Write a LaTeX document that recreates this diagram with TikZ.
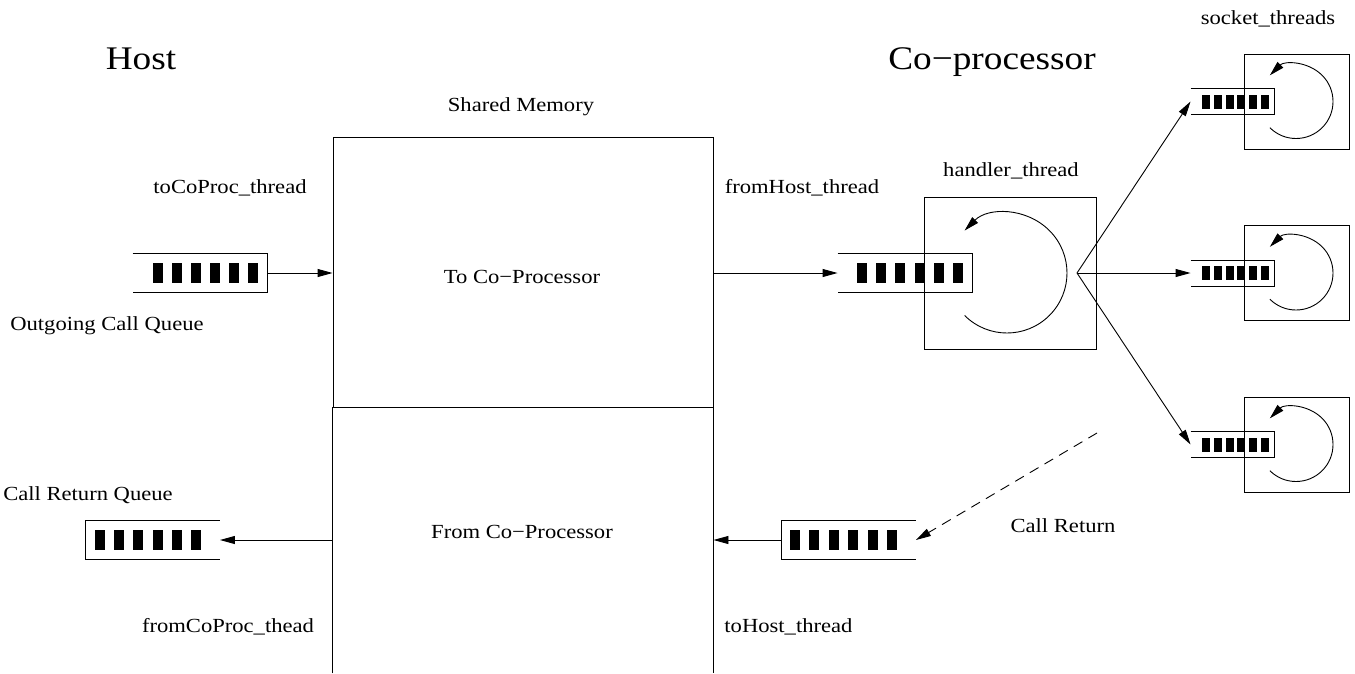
\documentclass[tikz,border=0pt]{standalone}
\usepackage{fontspec}
\setmainfont[FakeStretch=1.13]{Liberation Serif}
\usetikzlibrary{arrows.meta,calc}
\newcommand{\myqR}[1]{\draw (#1.north west) -- (#1.north east) -- (#1.south east) -- (#1.south west);}
\newcommand{\myqL}[1]{\draw (#1.north east) -- (#1.north west) -- (#1.south west) -- (#1.south east);}
% first bar left x, centre y, bar width, bar height, pitch
\newcommand{\myqbars}[5]{\foreach \i in {0,...,5} {\fill (#1+\i*#5, #2-#4/2) rectangle ++(#3, #4);}}
\begin{document}
\begin{tikzpicture}[x=1pt,y=-1pt, line width=0.9pt,
  lbl/.style={anchor=base, inner sep=0pt, font=\fontsize{20}{24}\selectfont},
  big/.style={anchor=base, inner sep=0pt, font=\fontsize{33}{40}\selectfont},
  arr/.style={-{Triangle[length=15pt,width=8pt]}},
  bigq/.style={draw=none, inner sep=0pt, minimum width=134pt, minimum height=38pt},
  smallq/.style={draw=none, inner sep=0pt, minimum width=83pt, minimum height=25pt},
  sockbox/.style={draw, inner sep=0pt, minimum width=105pt, minimum height=95pt},
  area/.style={draw=none, inner sep=0pt, minimum width=380pt}]
\useasboundingbox (0,0) rectangle (1355,673);

% titles
\node[big] (host) at (141,69) {Host};
\node[big] (cop) at (992,69) {Co−processor};
\node[lbl] (stt) at (1268,24) {socket\_threads};
\node[lbl] (smt) at (521,111) {Shared Memory};

% shared memory
\node[area, draw, minimum height=270pt] (tocp) at (523,272) {};
\node[area, minimum height=266pt] (fromcp) at (523,540) {};
\draw (fromcp.south west) -- (fromcp.north west) (fromcp.north east) -- (fromcp.south east);
\node[lbl] (tocpt) at (522,283) {To Co−Processor};
\node[lbl] (fromcpt) at (522,538) {From Co−Processor};

% host queues
\node[bigq] (q1) at (200,273) {};
\myqR{q1}
\myqbars{153}{273}{10}{20}{19}
\node[bigq] (q3) at (152.5,540) {};
\myqL{q3}
\myqbars{95}{540}{10}{20}{19.2}

\node[lbl] (l1) at (230,193) {toCoProc\_thread};
\node[lbl] (l2) at (107,330) {Outgoing Call Queue};
\node[lbl] (l3) at (88,500) {Call Return Queue};
\node[lbl] (l4) at (228,632) {fromCoProc\_thead};

% co-processor side
\node[lbl] (l5) at (802,193) {fromHost\_thread};
\node[lbl] (l6) at (1011,176) {handler\_thread};
\node[lbl, anchor=base west] (l7) at (724,632) {toHost\_thread};
\node[lbl] (l8) at (1063,532) {Call Return};

\node[draw, inner sep=0pt, minimum width=172pt, minimum height=152pt] (hb) at (1010,273) {};
\node[bigq] (q2) at (905,273) {};
\myqR{q2}
\myqbars{857}{273}{10}{20}{19.2}
\draw[arr] (1007,273) ++(135:60) arc[start angle=135, end angle=-135, radius=60];

\node[bigq] (q4) at (848.5,540) {};
\myqL{q4}
\myqbars{790}{540}{10}{20}{19.4}

% socket threads
\foreach \n/\cy in {1/101.5, 2/273, 3/444.5} {
  \node[sockbox] (sb\n) at (1296.5,\cy) {};
  \node[smallq] (s\n) at (1232.5,\cy) {};
  \myqR{s\n}
  \myqbars{1202}{\cy}{8}{14}{11.8}
  \draw[arr] (1296,\cy) ++(135:37) arc[start angle=135, end angle=-135, radius=37];
}

% connectors
\draw[arr] (q1.east) -- (tocp.west |- q1.east);
\draw[arr] (tocp.east |- q2.west) -- (q2.west);
\draw[arr] (q4.west) -- (fromcp.east |- q4.west);
\draw[arr] (fromcp.west |- q3.east) -- (q3.east);

\coordinate (fan) at (1077,273);
\draw[arr] (fan) -- (s1.west);
\draw[arr] (fan) -- (s2.west);
\draw[arr] (fan) -- (s3.west);

\coordinate (cr) at (1097,433);
\draw[arr, dash pattern=on 10pt off 7pt] (cr) -- (q4.east);
\end{tikzpicture}
\end{document}
